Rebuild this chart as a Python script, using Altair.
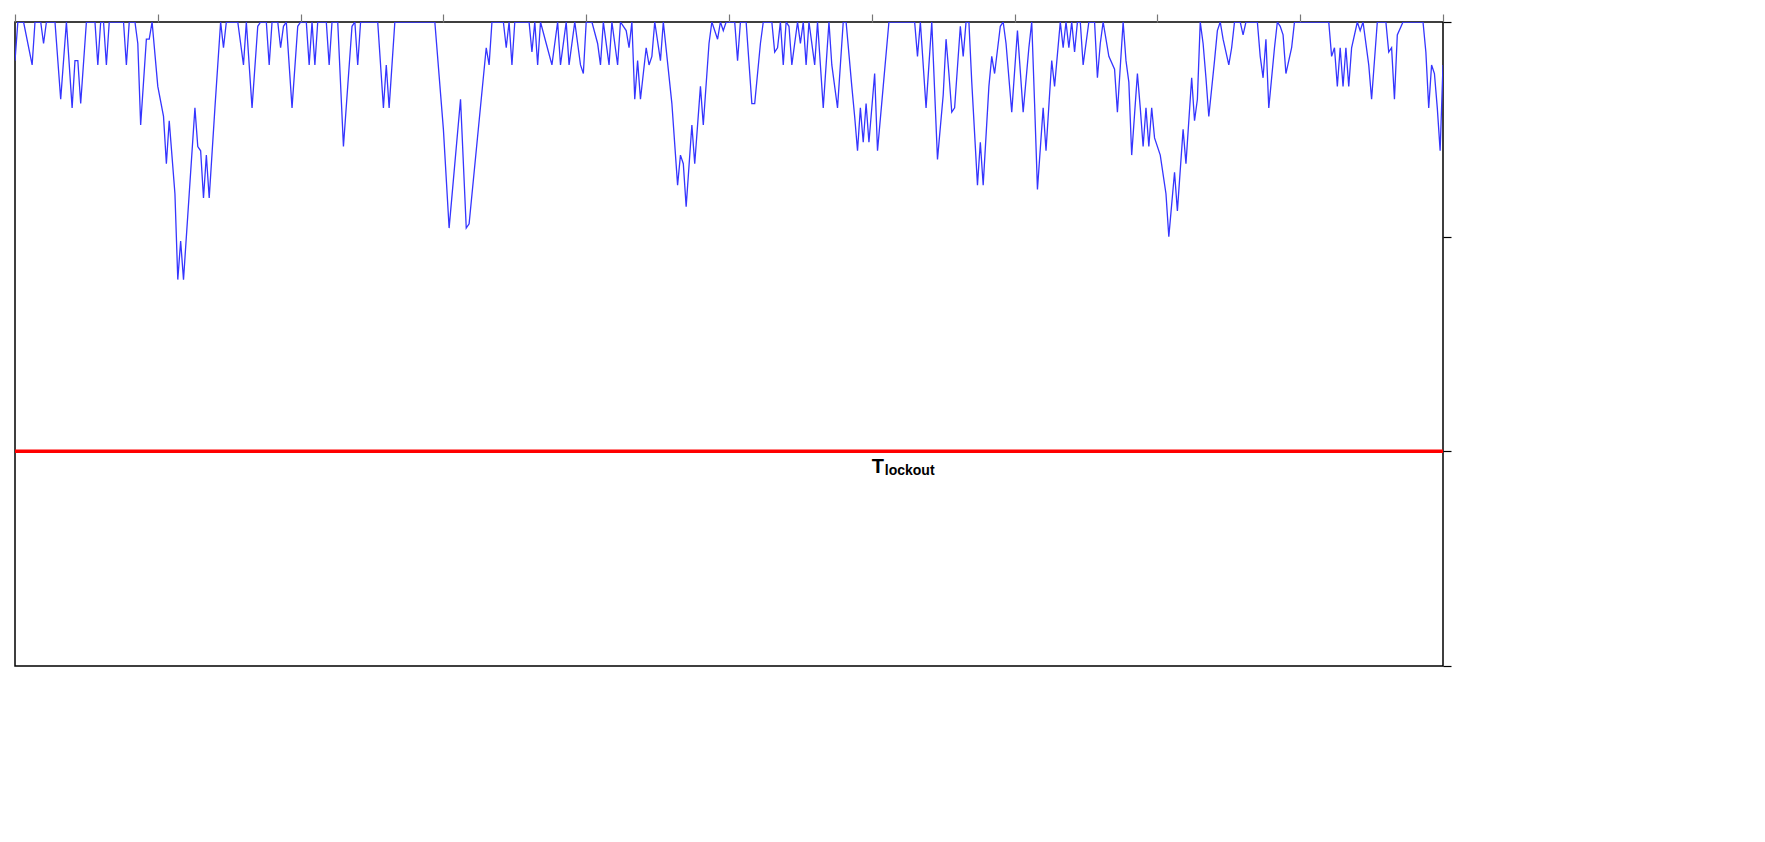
import altair as alt
import pandas as pd

events = [0,1,3,6,7,9,10,11,14,16,18,20,21,22,23,25,28,29,30,31,32,33,38,39,40,42,43,44,46,47,48,
50,52,53,54,56,57,58,59,61,63,64,65,66,67,68,70,72,73,74,78,80,81,83,85,86,88,89,90,92,93,94,95,97,99,
100,102,103,104,105,106,109,110,111,113,115,118,119,120,121,127,129,130,131,133,147,150,152,156,158,159,
165,166,167,171,172,173,174,175,180,181,182,183,184,186,188,190,191,193,194,196,198,199,200,202,204,205,206,
208,209,211,212,214,215,216,217,218,219,221,222,223,224,226,227,230,232,233,234,235,237,238,240,241,243,244,
246,247,248,249,252,253,254,256,258,259,261,262,265,266,267,268,269,270,271,272,274,275,276,277,278,280,281,
283,285,286,288,290,291,293,294,295,296,297,298,299,301,302,304,306,315,316,317,319,321,323,325,326,327,328,
329,331,332,333,334,335,337,338,339,341,342,343,345,346,347,349,351,353,355,356,357,358,360,361,363,364,366,
367,368,369,370,371,372,373,374,376,378,379,380,381,383,385,386,388,389,390,391,393,394,395,396,397,398,399,
401,403,404,406,407,409,410,412,413,414,415,416,417,418,420,421,422,423,425,426,427,429,430,431,432,435,436,
437,438,439,441,442,443,444,445,447,448,460,461,462,463,464,465,466,467,468,470,471,472,474,475,477,480,481,
482,483,484,486,493,494,495,496,497,498,499,500]
trust = [99.1,100,100,99,100,100,99.5,100,100,98.2,100,98,99.1,99.1,98.1,100,100,99,100,100,99,100,100,99,100,100,99.5,97.6,99.6,99.6,100,
98.5,97.8,96.7,97.7,96,94,94.9,94,96,98,97.1,97,95.9,96.9,95.9,98,100,99.4,100,100,99,100,98,99.9,100,100,99,100,100,99.4,99.9,100,98,99.9,
100,100,99,100,99,100,100,99,100,100,97.1,99.9,100,99,100,100,98,99,98,100,100,97.5,95.2,98.2,95.2,95.3,
99.4,99,100,100,99.4,100,99,100,100,99.3,100,99,100,99.5,99,100,99,100,99,100,99,98.8,100,100,99.5,99,100,
99,100,99,100,99.8,99.4,100,98.2,99.1,98.2,99.4,99,99.2,100,99.1,100,98.1,96.2,96.9,96.7,95.7,97.6,96.7,98.5,97.6,99.5,100,
99.6,100,99.8,100,100,99.1,100,100,98.1,98.1,99.5,100,100,99.3,99.4,100,99,100,99.9,99,100,99.5,100,99,100,99,100,
98,100,99,98,100,100,98.5,97.8,97,98,97.2,98.1,97.2,98.8,97,98.5,100,100,99.2,100,98,100,96.8,98.3,99.6,98.8,97.9,
98,99.9,99.2,100,100,98.6,96.2,97.2,96.2,98.5,99.2,98.8,99.9,100,99.5,97.9,99.8,97.9,99.4,100,98.1,96.1,98,97,99.1,98.5,100,
99.4,100,99.4,100,99.3,100,100,99,100,100,98.7,99.5,100,99.2,98.9,97.9,100,99.1,98.6,96.9,98.8,98,97.1,98,97.1,98,97.3,
96.9,96,95,96.5,95.6,97.5,96.7,98.7,97.7,98.2,100,99.5,98.7,97.8,99.1,99.8,100,99.6,99,99.4,100,100,99.7,100,100,100,99.2,
98.7,99.6,98,99.4,100,99.9,99.7,98.8,99.4,100,100,99.2,99.4,98.5,99.4,98.5,99.4,98.5,99.4,100,99.8,100,99,98.2,100,100,99.3,
99.4,98.2,99.7,100,100,99.3,98,99,98.8,98,97,99]

threshold = 90
label_event = 300
x_ticks = list(range(0, 501, 50))
y_ticks = [85, 90, 95, 100]

df = pd.DataFrame({"event": events, "trust": trust})
FONT = "Liberation Sans"

xs = alt.Scale(domain=[0, 500], nice=False)
ys = alt.Scale(domain=[85, 100], nice=False)

line = alt.Chart(df).mark_line(color="#3535ff", strokeWidth=1.3, clip=True).encode(
    x=alt.X("event:Q", scale=xs, axis=alt.Axis(title="Event Number", values=x_ticks,
        tickSize=8, tickColor="black", domain=False, grid=False, labelFontSize=15, labelFont=FONT,
        titleFont=FONT, titleFontSize=18, titleFontWeight="bold", titlePadding=26, labelPadding=4)),
    y=alt.Y("trust:Q", scale=ys, axis=alt.Axis(title="System Trust", values=y_ticks,
        tickSize=8, tickColor="black", domain=False, grid=False, labelFontSize=15, labelFont=FONT,
        titleFont=FONT, titleFontSize=30, titleFontWeight="bold", titlePadding=24, labelPadding=4)),
)

tdf = pd.DataFrame({"v": [threshold]})
rule = alt.Chart(tdf).mark_rule(color="#ff0000", strokeWidth=3.5).encode(
    y=alt.Y("v:Q", scale=ys, axis=None))

ldf = pd.DataFrame({"e": [label_event], "v": [threshold]})
t1 = alt.Chart(ldf).mark_text(text="T", font=FONT, fontSize=20, fontWeight="bold", align="left",
    baseline="top", dy=6).encode(x=alt.X("e:Q", scale=xs, axis=None), y=alt.Y("v:Q", scale=ys, axis=None))
t2 = alt.Chart(ldf).mark_text(text="lockout", font=FONT, fontSize=14, fontWeight="bold", align="left",
    baseline="top", dx=13, dy=13).encode(x=alt.X("e:Q", scale=xs, axis=None), y=alt.Y("v:Q", scale=ys, axis=None))

main = alt.layer(rule, line, t1, t2)

top = alt.Chart(tdf).mark_point(opacity=0).encode(
    x=alt.X("v:Q", scale=xs, axis=alt.Axis(orient="top", values=x_ticks, labels=False,
        title=None, tickSize=8, tickColor="#777", domain=False, grid=False)),
    y=alt.Y("v:Q", scale=ys, axis=alt.Axis(orient="right", values=y_ticks, labels=False,
        title=None, tickSize=8, tickColor="black", domain=False, grid=False)),
)

chart = alt.layer(main, top).resolve_scale(x="independent", y="independent").properties(
    width=1428, height=644).configure_view(
    stroke="black", strokeWidth=1.5).configure_axis(tickWidth=1.2, labelColor="black", titleColor="black")

chart.save("out.html", embed_options={"renderer": "svg", "actions": False})
